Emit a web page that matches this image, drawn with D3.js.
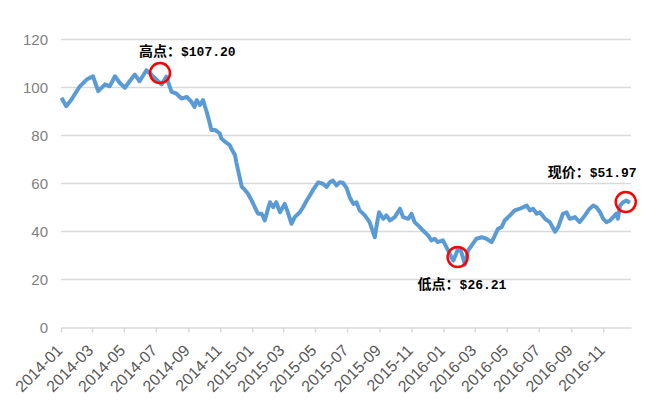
<!DOCTYPE html>
<html>
<head>
<meta charset="utf-8">
<script src="https://cdn.jsdelivr.net/npm/d3@7"></script>
<style>
    body { margin: 0; background: #fff; }
    #mainChart { width: 672px; height: 416px; }
</style>
</head>
<body>
<div id="mainChart"></div>
<script>
// oil price (approx. weekly)
var dates = [
    "2014-01-02", "2014-01-11", "2014-01-21", "2014-02-06", "2014-02-19", "2014-03-03", "2014-03-13", "2014-03-26",
    "2014-04-04", "2014-04-14", "2014-04-23", "2014-05-03", "2014-05-12", "2014-05-22", "2014-05-31", "2014-06-13",
    "2014-06-29", "2014-07-12", "2014-07-21", "2014-07-31", "2014-08-09", "2014-08-19", "2014-08-29", "2014-09-07",
    "2014-09-13", "2014-09-17", "2014-09-23", "2014-09-29", "2014-10-06", "2014-10-12", "2014-10-15", "2014-10-22",
    "2014-10-31", "2014-11-03", "2014-11-10", "2014-11-19", "2014-11-22", "2014-11-29", "2014-12-02", "2014-12-08",
    "2014-12-12", "2014-12-18", "2014-12-24", "2014-12-31", "2015-01-06", "2015-01-12", "2015-01-19", "2015-01-25",
    "2015-02-01", "2015-02-04", "2015-02-10", "2015-02-16", "2015-02-23", "2015-03-04", "2015-03-10", "2015-03-17",
    "2015-03-23", "2015-04-02", "2015-04-08", "2015-04-15", "2015-04-21", "2015-04-27", "2015-05-07", "2015-05-16",
    "2015-05-23", "2015-05-29", "2015-06-04", "2015-06-11", "2015-06-17", "2015-06-23", "2015-06-30", "2015-07-06",
    "2015-07-13", "2015-07-19", "2015-07-25", "2015-08-04", "2015-08-13", "2015-08-23", "2015-08-26", "2015-08-31",
    "2015-09-08", "2015-09-14", "2015-09-21", "2015-09-30", "2015-10-10", "2015-10-16", "2015-10-26", "2015-11-01",
    "2015-11-07", "2015-11-17", "2015-11-23", "2015-12-03", "2015-12-09", "2015-12-15", "2015-12-21", "2015-12-31",
    "2016-01-10", "2016-01-16", "2016-01-20", "2016-01-29", "2016-02-03", "2016-02-08", "2016-02-11", "2016-02-17",
    "2016-02-24", "2016-03-04", "2016-03-14", "2016-03-23", "2016-04-02", "2016-04-08", "2016-04-14", "2016-04-21",
    "2016-04-27", "2016-05-07", "2016-05-16", "2016-05-26", "2016-06-08", "2016-06-14", "2016-06-20", "2016-06-27",
    "2016-07-03", "2016-07-13", "2016-07-22", "2016-08-01", "2016-08-07", "2016-08-16", "2016-08-23", "2016-08-29",
    "2016-09-08", "2016-09-17", "2016-09-27", "2016-10-06", "2016-10-13", "2016-10-19", "2016-10-26", "2016-11-01",
    "2016-11-07", "2016-11-14", "2016-11-20", "2016-11-26", "2016-11-29", "2016-12-03", "2016-12-09", "2016-12-15",
    "2016-12-22"
];
var prices = [
    95.7, 92.2, 95.0, 100.5, 103.3, 104.7, 98.5, 101.3,
    100.5, 104.7, 102.0, 99.9, 102.6, 105.4, 102.6, 107.2,
    104.0, 101.3, 104.5, 98.2, 97.5, 95.4, 96.1, 94.0,
    91.9, 94.7, 92.7, 94.7, 89.9, 85.0, 82.3, 82.3,
    80.9, 78.8, 77.4, 76.0, 74.6, 71.9, 68.5, 62.6,
    58.7, 57.3, 55.7, 52.9, 50.1, 47.4, 47.4, 44.6,
    50.1, 52.2, 50.1, 52.2, 48.0, 51.5, 48.0, 43.2,
    46.0, 48.0, 50.1, 52.9, 55.0, 57.3, 60.5, 59.9,
    58.6, 60.5, 61.2, 59.2, 60.5, 60.3, 58.2, 54.3,
    51.5, 52.2, 48.8, 46.7, 43.9, 37.6, 41.8, 48.0,
    45.3, 46.7, 44.6, 46.0, 49.5, 46.0, 45.3, 47.4,
    43.9, 41.8, 40.4, 38.3, 36.3, 37.0, 35.6, 36.3,
    32.1, 29.3, 27.9, 32.8, 32.1, 28.6, 26.2, 32.1,
    34.2, 37.0, 37.6, 37.0, 35.6, 38.3, 41.1, 41.8,
    44.6, 46.7, 48.8, 49.5, 50.8, 48.8, 49.5, 47.4,
    48.0, 45.3, 43.9, 39.9, 41.8, 47.4, 48.0, 45.3,
    46.0, 43.9, 46.7, 49.5, 50.8, 50.1, 48.0, 45.3,
    43.9, 44.6, 46.0, 47.4, 45.3, 50.8, 52.2, 52.9,
    51.97
];
var yTicks = [0, 20, 40, 60, 80, 100, 120];
var xTickLabels = ["2014-01", "2014-03", "2014-05", "2014-07", "2014-09", "2014-11",
    "2015-01", "2015-03", "2015-05", "2015-07", "2015-09", "2015-11",
    "2016-01", "2016-03", "2016-05", "2016-07", "2016-09", "2016-11"];
var xDomain = ["2014-01-01", "2016-12-24"];

// annotations: label (name + price), circle date/value
var noteNames = ["高点：", "低点：", "现价："];
var notePrices = ["$107.20", "$26.21", "$51.97"];
var noteDates = ["2014-07-09", "2016-01-28", "2016-12-14"];
var noteValues = [106, 29.4, 52.3];

var parseDay = d3.timeParse("%Y-%m-%d");
var parseMonth = d3.timeParse("%Y-%m");

var width = 672, height = 416;
var margin = {left: 61, right: 41, top: 39.5, bottom: 88.5};

var data = dates.map(function (d, i) {
    return {date: parseDay(d), value: prices[i]};
});

var xScale = d3.scaleTime()
    .domain(xDomain.map(parseDay))
    .range([margin.left, width - margin.right]);

var yScale = d3.scaleLinear()
    .domain([0, 120])
    .range([height - margin.bottom, margin.top]);

var svg = d3.select("#mainChart")
    .append("svg")
    .attr("width", width)
    .attr("height", height)
    .style("display", "block");

// horizontal grid lines
svg.append("g")
    .selectAll("line")
    .data(yTicks.filter(function (d) { return d > 0; }))
    .join("line")
    .attr("x1", margin.left)
    .attr("x2", width - margin.right)
    .attr("y1", function (d) { return yScale(d); })
    .attr("y2", function (d) { return yScale(d); })
    .style("stroke", "#d9d9d9")
    .style("stroke-width", 1.5);

// y axis: labels only
var yAxis = d3.axisLeft(yScale)
    .tickValues(yTicks)
    .tickSize(0)
    .tickPadding(13);

var yAxisGroup = svg.append("g")
    .attr("transform", "translate(" + margin.left + ",0)")
    .call(yAxis);
yAxisGroup.select(".domain").remove();
yAxisGroup.selectAll("text")
    .style("font-family", "'Liberation Sans', Arial, sans-serif")
    .style("font-size", "15px")
    .style("fill", "#7f7f7f");

// x axis
var xAxis = d3.axisBottom(xScale)
    .tickValues(xTickLabels.map(parseMonth))
    .tickSize(5)
    .tickSizeOuter(0)
    .tickFormat(d3.timeFormat("%Y-%m"));

var xAxisGroup = svg.append("g")
    .attr("transform", "translate(0," + yScale(0) + ")")
    .call(xAxis);
xAxisGroup.select(".domain").style("stroke", "#d9d9d9").style("stroke-width", 1.5);
xAxisGroup.selectAll(".tick line").style("stroke", "#d9d9d9").style("stroke-width", 1.5);
xAxisGroup.selectAll("text")
    .style("font-family", "'Liberation Sans', Arial, sans-serif")
    .style("font-size", "16px")
    .style("fill", "#595959")
    .style("text-anchor", "end")
    .attr("x", 0)
    .attr("y", 0)
    .attr("dy", 0)
    .attr("transform", "translate(2,24) rotate(-45)");

// price line
var line = d3.line()
    .x(function (d) { return xScale(d.date); })
    .y(function (d) { return yScale(d.value); });

svg.append("path")
    .datum(data)
    .attr("d", line)
    .style("fill", "none")
    .style("stroke", "#5b9bd5")
    .style("stroke-width", 4)
    .style("stroke-linejoin", "round");

// red circles and labels
var noteG = svg.append("g");
var labelOffset = [[-21, -17], [-40, 32], [-78, -25]];

noteNames.forEach(function (t, i) {
    var cx = xScale(parseDay(noteDates[i]));
    var cy = yScale(noteValues[i]);
    noteG.append("circle")
        .attr("cx", cx)
        .attr("cy", cy)
        .attr("r", 10)
        .style("fill", "none")
        .style("stroke", "#ff0000")
        .style("stroke-width", 2.5);
    var label = noteG.append("text")
        .attr("x", cx + labelOffset[i][0])
        .attr("y", cy + labelOffset[i][1])
        .style("font-weight", "bold")
        .style("fill", "#000");
    label.append("tspan")
        .text(t)
        .style("font-family", "'Noto Sans CJK SC', sans-serif")
        .style("font-size", "14px");
    label.append("tspan")
        .text(notePrices[i])
        .style("font-family", "'Liberation Mono', monospace")
        .style("font-size", "13px");
});
</script>
</body>
</html>
